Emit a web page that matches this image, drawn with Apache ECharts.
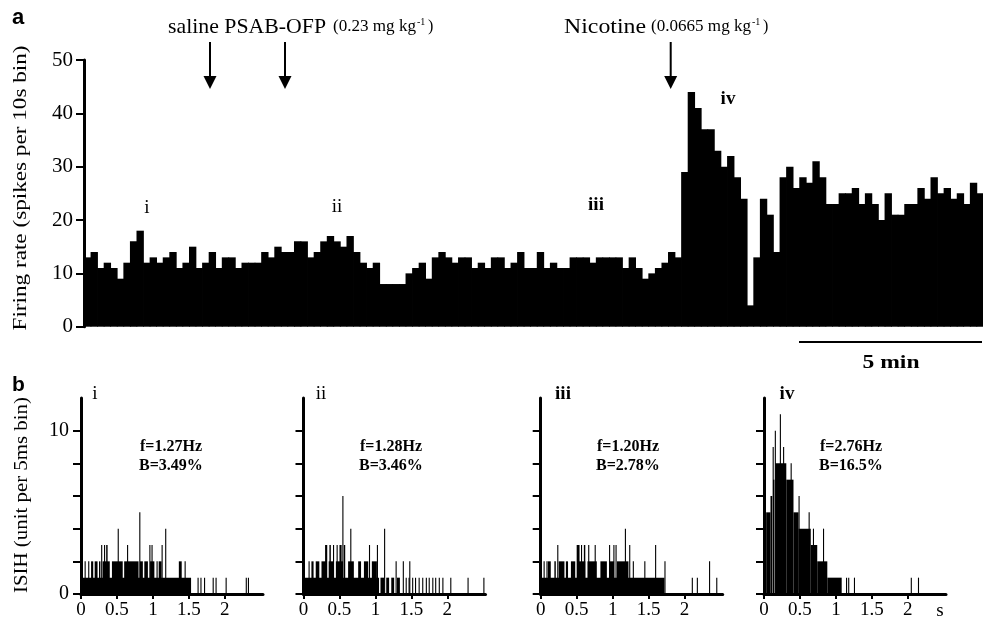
<!DOCTYPE html>
<html>
<head>
<meta charset="utf-8">
<script src="https://cdn.jsdelivr.net/npm/echarts@6/dist/echarts.min.js"></script>
<style>
  html, body { margin: 0; padding: 0; background: #fff; }
  #chart { width: 983px; height: 626px; }
</style>
</head>
<body>
<div id="chart"></div>
<script>
// firing rate, spikes per 10 s bin (panel a)
const rateBins = [
  13,14,11,12,11,9,12,16,18,12,13,12,13,14,11,12,15,11,12,14,11,13,13,11,12,12,12,14,13,15,14,14,16,16,13,14,16,17,
  16,15,17,14,12,11,12,8,8,8,8,10,11,12,9,13,14,13,12,13,13,11,
  12,11,13,13,11,12,14,11,11,14,11,12,11,11,13,13,13,12,13,13,13,13,11,13,11,9,10,11,12,14,13,
  29,44,41,37,37,33,30,32,28,24,4,13,24,21,14,28,30,26,28,27,31,28,23,23,25,25,26,23,25,23,20,25,21,21,23,23,26,24,28,25,26,24,25,23,27,25
];
const rateTicks = [0, 10, 20, 30, 40, 50];

// ISI histograms (panel b): runs [start s, end s, count] and single 5 ms bins [t s, count]
const isiTicks = [0, 0.5, 1, 1.5, 2];
const isihTicks = [0, 2, 4, 6, 8, 10];
const isihLabels = [0, 10];

const runsI = [[0.02,1.53,1],[0.14,0.17,2],[0.19,0.23,2],[0.25,0.27,2],[0.30,0.40,2],[0.43,0.58,2],
  [0.60,0.80,2],[0.82,0.86,2],[0.88,0.93,2],[0.96,1.02,2],[1.08,1.12,2],[1.36,1.40,2],[0.35,0.37,3]];
const binsI = [[0.05,2],[0.10,2],[0.28,3],[0.32,3],[0.51,4],[0.64,3],[0.81,5],[0.95,3],[0.98,3],[1.12,3],
  [1.17,4],[1.05,2],[1.44,2],[1.62,1],[1.66,1],[1.71,1],[1.83,1],[1.87,1],[2.01,1],[2.29,1],[2.32,1]];

const runsII = [[0.02,1.05,1],[1.07,1.12,1],[1.15,1.19,1],[1.22,1.26,1],[1.30,1.34,1],[0.11,0.14,2],[0.17,0.22,2],
  [0.25,0.32,2],[0.35,0.42,2],[0.45,0.55,2],[0.62,0.70,2],[0.76,0.80,2],[0.84,0.90,2],[0.95,1.02,2],
  [0.30,0.33,3],[0.36,0.38,3],[0.50,0.53,3],[0.56,0.58,3]];
const binsII = [[0.07,2],[0.41,3],[0.46,3],[0.54,6],[0.65,4],[0.91,3],[1.02,3],[1.12,4],[1.28,2],[1.38,2],
  [1.47,2],[1.42,1],[1.46,1],[1.51,1],[1.55,1],[1.60,1],[1.65,1],[1.70,1],[1.74,1],[1.79,1],[1.83,1],
  [1.88,1],[1.93,1],[2.04,1],[2.28,1],[2.50,1]];

const runsIII = [[0.01,1.72,1],[0.10,0.14,2],[0.19,0.21,2],[0.25,0.33,2],[0.35,0.38,2],[0.42,0.48,2],
  [0.52,0.62,2],[0.65,0.78,2],[0.83,0.92,2],[0.95,1.02,2],[1.06,1.22,2],[0.50,0.54,3],[0.60,0.62,3]];
const binsIII = [[0.04,2],[0.08,2],[0.23,3],[0.56,3],[0.66,3],[0.75,3],[0.95,3],[1.01,3],[1.04,3],[1.17,4],
  [1.23,3],[1.28,2],[1.44,2],[1.59,3],[1.72,2],[2.10,1],[2.17,1],[2.34,2],[2.44,1]];

const runsIV = [[0.03,0.09,5],[0.09,0.115,6],[0.125,0.145,7],[0.155,0.31,8],[0.31,0.41,7],[0.41,0.48,5],
  [0.48,0.65,4],[0.65,0.74,3],[0.74,0.88,2],[0.88,1.08,1]];
const binsIV = [[0.12,9],[0.15,10],[0.22,11],[0.265,9],[0.37,8],[0.48,6],[0.62,5],[0.68,4],[0.82,4],
  [1.14,1],[1.17,1],[1.25,1],[2.04,1],[2.14,1]];

const isiStats = [['f=1.27Hz', 'B=3.49%'], ['f=1.28Hz', 'B=3.46%'], ['f=1.20Hz', 'B=2.78%'], ['f=2.76Hz', 'B=16.5%']];
const isiNames = ['i', 'ii', 'iii', 'iv'];

const serif = "'Liberation Serif', 'DejaVu Serif', serif";
const sans = "'Liberation Sans', Arial, sans-serif";

const chart = echarts.init(document.getElementById('chart'));

const panels = [[runsI, binsI], [runsII, binsII], [runsIII, binsIII], [runsIV, binsIV]];
const panelLeft = [81, 303.5, 540.7, 764];

function renderRate(params, api) {
  const top = api.coord([api.value(0), api.value(1)]);
  const base = api.coord([api.value(0), 0]);
  const w = api.size([1, 0])[0];
  return {
    type: 'rect',
    shape: { x: top[0] - w / 2, y: top[1], width: w + 0.8, height: base[1] - top[1] },
    style: { fill: '#000' }
  };
}

function renderRun(params, api) {
  const base = api.coord([api.value(0), 0]);
  const top = api.coord([api.value(1), api.value(2)]);
  const w = Math.max(top[0] - base[0], 1.1);
  return {
    type: 'rect',
    shape: { x: base[0], y: top[1], width: w, height: base[1] - top[1] },
    style: { fill: '#000' }
  };
}

const grids = [{ left: 84, top: 60, width: 899, height: 266.7 }];
const xAxes = [{
  type: 'category', gridIndex: 0, data: rateBins.map((v, i) => i),
  axisLine: { show: false }, axisTick: { show: false }, axisLabel: { show: false }
}];
const yAxes = [{
  type: 'value', gridIndex: 0, min: 0, max: 50, interval: 10,
  axisLine: { show: true, lineStyle: { color: '#000', width: 3 } },
  axisTick: { show: true, length: 8, lineStyle: { color: '#000', width: 2 } },
  axisLabel: { fontFamily: serif, fontSize: 21, color: '#000', margin: 11, customValues: rateTicks },
  splitLine: { show: false }
}];
const series = [{
  type: 'custom', xAxisIndex: 0, yAxisIndex: 0,
  data: rateBins.map((v, i) => [i, v]),
  encode: { x: 0, y: 1 }, renderItem: renderRate, silent: true, animation: false
}];

panels.forEach((p, k) => {
  const gi = k + 1;
  grids.push({ left: panelLeft[k], top: 398, width: 182, height: 196 });
  xAxes.push({
    type: 'value', gridIndex: gi, min: 0, max: 2.53,
    axisLine: { show: true, onZero: false, lineStyle: { color: '#000', width: 3 } },
    axisTick: { show: true, length: 5, customValues: isiTicks, lineStyle: { color: '#000', width: 2 } },
    axisLabel: { fontFamily: serif, fontSize: 19, color: '#000', margin: 7, customValues: isiTicks,
      formatter: v => String(v) },
    splitLine: { show: false }
  });
  yAxes.push({
    type: 'value', gridIndex: gi, min: 0, max: 12,
    axisLine: { show: true, lineStyle: { color: '#000', width: 3 } },
    axisTick: { show: true, length: 8, customValues: isihTicks, lineStyle: { color: '#000', width: 2 } },
    axisLabel: { show: k === 0, fontFamily: serif, fontSize: 20, color: '#000', margin: 12, customValues: isihLabels },
    splitLine: { show: false }
  });
  const data = p[0].concat(p[1].map(b => [b[0], b[0] + 0.005, b[1]]));
  series.push({
    type: 'custom', xAxisIndex: gi, yAxisIndex: gi, data: data,
    encode: { x: [0, 1], y: 2 }, renderItem: renderRun, clip: true, silent: true, animation: false
  });
});

const measureCtx = document.createElement('canvas').getContext('2d');
function fontOf(size, opt) {
  return (opt && opt.bold ? 'bold ' : '') + size + 'px ' + ((opt && opt.family) || serif);
}
function widthOf(s, size, opt) {
  measureCtx.font = fontOf(size, opt);
  return measureCtx.measureText(s).width;
}
// text element; opt.width stretches it to the reference's width
function txt(x, y, s, size, opt) {
  opt = opt || {};
  const sx = opt.width ? opt.width / widthOf(s, size, opt) : 1;
  return {
    type: 'text', x: x, y: y, scaleX: sx, rotation: opt.rotation || 0, silent: true,
    style: { text: s, font: fontOf(size, opt), fill: '#000', align: opt.align || 'left', verticalAlign: 'middle' }
  };
}
function arrow(x) {
  return [
    { type: 'line', shape: { x1: x, y1: 42, x2: x, y2: 77 }, style: { stroke: '#000', lineWidth: 2 }, silent: true },
    { type: 'polygon', shape: { points: [[x - 6.5, 76], [x + 6.5, 76], [x, 89]] }, style: { fill: '#000' }, silent: true }
  ];
}
// dose annotation with superscript -1
function dose(x, body, bodyWidth) {
  return [
    txt(x, 27, body, 16, { width: bodyWidth }),
    txt(x + bodyWidth + 1, 22, '-1', 10),
    txt(x + bodyWidth + 12, 27, ')', 16)
  ];
}

const graphics = [
  txt(12, 18, 'a', 22, { bold: true, family: sans }),
  txt(12, 385, 'b', 21, { bold: true, family: sans }),
  txt(168, 27, 'saline PSAB-OFP', 21, { width: 158 }),
  ...dose(333, '(0.23 mg kg', 83),
  txt(564, 27, 'Nicotine', 21, { width: 82 }),
  ...dose(651, '(0.0665 mg kg', 100),
  ...arrow(210), ...arrow(285), ...arrow(670.7),
  txt(147, 208, 'i', 19, { align: 'center' }),
  txt(337, 207, 'ii', 19, { align: 'center' }),
  txt(596, 205, 'iii', 19, { align: 'center', bold: true }),
  txt(728, 99, 'iv', 19, { align: 'center', bold: true }),
  txt(21, 188, 'Firing rate (spikes per 10s bin)', 19, { align: 'center', rotation: Math.PI / 2, width: 285 }),
  txt(22, 495, 'ISIH (unit per 5ms bin)', 19, { align: 'center', rotation: Math.PI / 2, width: 196 }),
  { type: 'line', shape: { x1: 799, y1: 342, x2: 982, y2: 342 }, style: { stroke: '#000', lineWidth: 2 }, silent: true },
  txt(891, 363, '5 min', 18, { align: 'center', bold: true, width: 57 }),
  txt(940, 611, 's', 19, { align: 'center' })
];
const nameX = [95, 321, 563, 787];
const statX = [140, 360, 597, 820];
isiNames.forEach((n, k) => {
  graphics.push(txt(nameX[k], 394, n, 19, { align: 'center', bold: k > 1 }));
  graphics.push(txt(statX[k], 447, isiStats[k][0], 16, { bold: true }));
  graphics.push(txt(statX[k] - 1, 466, isiStats[k][1], 16, { bold: true }));
});

chart.setOption({
  animation: false,
  backgroundColor: '#fff',
  grid: grids,
  xAxis: xAxes,
  yAxis: yAxes,
  series: series,
  graphic: graphics
});
</script>
</body>
</html>
